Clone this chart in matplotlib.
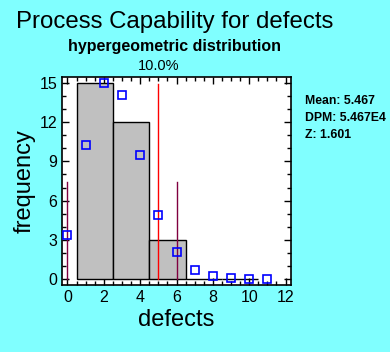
import numpy as np
import matplotlib.pyplot as plt
from matplotlib.ticker import MultipleLocator

plt.rcParams['font.family'] = ['Liberation Sans', 'DejaVu Sans']

# ---------- Data ----------
bin_edges = [0.5, 2.5, 4.5, 6.5, 8.5, 10.5]
bin_counts = [15, 12, 3, 0, 0]

fit_x = [0, 1, 2, 3, 4, 5, 6, 7, 8, 9, 10, 11]
fit_y = [3.35, 10.24, 15.0, 14.08, 9.48, 4.88, 2.04, 0.66, 0.2, 0.05, 0.0, 0.0]

spec_x = [0, 6]          # spec limits
spec_top = 7.4
mean_x = 5.0
mean_top = 14.95

stats = ['Mean: 5.467', 'DPM: 5.467E4', 'Z: 1.601']

bg = '#80FFFF'

# ---------- Plot ----------
fig = plt.figure(figsize=(3.9, 3.52), dpi=100, facecolor=bg)
ax = fig.add_axes([62/390, 1-285/352, (291-62)/390, (285-77)/352])
ax.set_facecolor('white')

widths = np.diff(bin_edges)
ax.bar(bin_edges[:-1], bin_counts, width=widths, align='edge',
       color='#C0C0C0', edgecolor='black', linewidth=1.0, zorder=2)

for sx in spec_x:
    ax.plot([sx, sx], [0, spec_top], color='#800040', lw=1.0, zorder=3)
ax.plot([mean_x, mean_x], [0, mean_top], color='red', lw=1.0, zorder=3)

ax.plot(fit_x, fit_y, 's', ms=6, mfc='none', mec='blue', mew=1.2, zorder=4, clip_on=False)

ax.set_xlim(-0.3, 12.3)
ax.set_ylim(-0.46, 15.46)
ax.xaxis.set_major_locator(MultipleLocator(2))
ax.xaxis.set_minor_locator(MultipleLocator(0.5))
ax.yaxis.set_major_locator(MultipleLocator(3))
ax.yaxis.set_minor_locator(MultipleLocator(1))
ax.tick_params(which='both', direction='in', top=True, right=True, labelsize=11.5, width=1)
ax.tick_params(which='major', length=5)
ax.tick_params(which='minor', length=3)
for s in ax.spines.values():
    s.set_linewidth(1.2)

ax.set_xlabel('defects', fontsize=17, labelpad=3)
ax.set_ylabel('frequency', fontsize=17, labelpad=3)

ax.text(mean_x, 15.8, '10.0%', ha='center', va='bottom', fontsize=10.5)

fig.text(175/390, 1-22/352, 'Process Capability for defects', ha='center', va='center', fontsize=17.3)
fig.text(175/390, 1-47/352, 'hypergeometric distribution', ha='center', va='center',
         fontsize=11.5, fontweight='bold')
for i, s in enumerate(stats):
    fig.text(305/390, 1-(101+17*i)/352, s, ha='left', va='center', fontsize=8.8, fontweight='bold')

plt.savefig('out.png', dpi=100, facecolor=bg)
